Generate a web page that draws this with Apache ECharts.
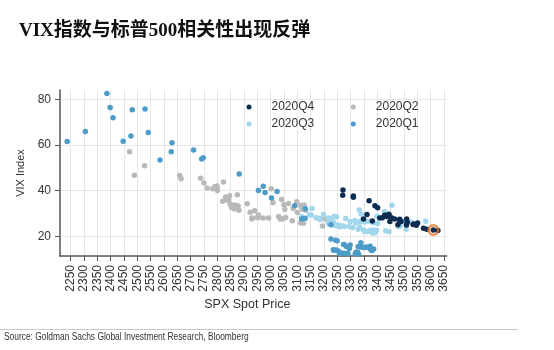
<!DOCTYPE html>
<html>
<head>
<meta charset="utf-8">
<script src="https://cdn.jsdelivr.net/npm/echarts@6/dist/echarts.min.js"></script>
<style>
  html, body { margin: 0; padding: 0; background: #fff; }
  #chart-container { width: 554px; height: 350px; }
</style>
</head>
<body>
<div id="chart-container"></div>
<script>
// tick labels
const spxTicks = [2250, 2300, 2350, 2400, 2450, 2500, 2550, 2600, 2650, 2700, 2750, 2800, 2850, 2900, 2950,
  3000, 3050, 3100, 3150, 3200, 3250, 3300, 3350, 3400, 3450, 3500, 3550, 3600, 3650];
const vixTicks = [20, 40, 60, 80];

// 2020Q1 (spx, vix)
const q1Spx = [3258, 3235, 3246, 3237, 3253, 3275, 3265, 3288, 3283, 3289, 3317, 3330, 3321, 3322, 3326, 3295, 3244, 3276, 3273, 3284, 3226,
  3249, 3298, 3335, 3346, 3328, 3352, 3358, 3379, 3374, 3380, 3370, 3386, 3373, 3338, 3226, 3128, 3116, 2979, 2954,
  3090, 3003, 3130, 3024, 2972, 2747, 2882, 2741, 2481, 2711, 2386, 2529, 2398, 2409, 2305, 2237, 2447, 2476, 2630, 2541, 2627, 2585];
const q1Vix = [12.5, 14.0, 13.9, 13.8, 13.5, 12.5, 12.6, 12.3, 12.4, 12.4, 12.3, 12.1, 12.9, 12.9, 13.0, 14.6, 18.2, 16.3, 16.4, 15.5, 18.8,
  18.0, 16.1, 15.2, 15.0, 15.5, 15.0, 15.2, 13.7, 14.2, 13.7, 14.8, 14.4, 15.6, 17.1, 25.0, 27.9, 27.6, 39.2, 40.1,
  33.4, 36.8, 32.0, 39.6, 41.9, 54.5, 47.3, 53.9, 75.5, 57.8, 82.7, 75.9, 76.5, 72.0, 66.0, 61.6, 61.7, 64.0, 61.0, 65.5, 57.1, 53.5];

// 2020Q2
const q2Spx = [2471, 2527, 2489, 2664, 2659, 2750, 2790, 2762, 2846, 2783, 2800, 2875, 2823, 2737, 2799, 2798, 2837, 2878, 2863, 2940, 2912,
  2831, 2843, 2868, 2848, 2881, 2930, 2930, 2870, 2820, 2853, 2864, 2954, 2923, 2972, 2949, 2955, 2992, 3036, 3030, 3044,
  3056, 3081, 3123, 3112, 3194, 3232, 3207, 3190, 3002, 3041, 3067, 3125, 3113, 3115, 3098, 3118, 3131, 3050, 3084, 3009, 3053, 3100];
const q2Vix = [57.1, 50.9, 46.8, 45.2, 46.7, 43.4, 41.7, 41.2, 37.8, 40.8, 40.1, 38.2, 43.8, 45.4, 42.0, 41.4, 35.9, 33.3, 33.6, 31.2, 34.2,
  37.2, 36.0, 33.6, 34.1, 31.4, 28.0, 27.6, 33.0, 35.3, 32.6, 31.9, 29.3, 30.5, 28.0, 28.2, 28.2, 28.0, 27.6, 28.6, 27.5,
  28.2, 26.8, 25.7, 25.8, 24.5, 25.8, 27.6, 27.6, 40.8, 36.1, 34.4, 33.7, 33.5, 32.9, 35.1, 31.8, 31.4, 33.8, 32.2, 34.7, 31.8, 30.4];

// 2020Q3
const q3Spx = [3116, 3130, 3180, 3145, 3170, 3152, 3185, 3155, 3198, 3227, 3216, 3225, 3252, 3257, 3276, 3236, 3216, 3239, 3218, 3258, 3246, 3271,
  3295, 3307, 3328, 3349, 3351, 3360, 3334, 3380, 3373, 3373, 3382, 3390, 3375, 3386, 3397, 3431, 3444, 3479, 3485, 3508, 3500,
  3527, 3581, 3455, 3427, 3332, 3399, 3339, 3341, 3384, 3401, 3385, 3357, 3319, 3281, 3316, 3237, 3247, 3298, 3352, 3335, 3363];
const q3Vix = [28.6, 27.7, 27.9, 29.4, 28.1, 29.3, 27.3, 32.2, 29.5, 27.8, 28.0, 25.7, 24.5, 24.8, 24.3, 26.1, 25.8, 24.7, 25.4, 24.1, 24.8, 24.5,
  24.3, 23.8, 23.0, 22.7, 22.2, 22.1, 24.0, 22.3, 22.6, 22.1, 21.4, 21.5, 22.5, 22.7, 22.5, 22.4, 22.0, 24.1, 24.5, 23.0, 26.4,
  26.1, 26.6, 33.6, 30.8, 31.5, 28.8, 29.7, 26.9, 25.9, 25.6, 26.0, 26.5, 25.8, 27.8, 26.9, 28.6, 28.5, 26.4, 26.2, 26.3, 26.4];

// 2020Q4
const q4Spx = [3381, 3348, 3409, 3361, 3419, 3447, 3477, 3534, 3512, 3489, 3483, 3484, 3427, 3443, 3436, 3453, 3465, 3401, 3391, 3271, 3310, 3270,
  3310, 3369, 3443, 3510, 3509, 3551, 3546, 3573, 3537, 3585, 3627, 3610];
const q4Vix = [26.7, 27.6, 28.0, 29.5, 28.1, 26.4, 25.0, 25.1, 26.1, 26.4, 27.0, 27.4, 29.2, 29.4, 28.7, 28.1, 27.6, 32.5, 33.4, 40.3, 37.6, 38.0,
  37.1, 35.6, 29.6, 27.6, 24.9, 25.8, 24.8, 23.5, 25.4, 23.1, 22.5, 22.7];

// latest point (circled)
const latestSpx = [3610];
const latestVix = [22.7];

const zip = (xs, ys) => xs.map((x, i) => [x, ys[i]]);

const chart = echarts.init(document.getElementById("chart-container"));

const dot = (name, xs, ys, color, z) => ({
  name: name,
  type: "scatter",
  data: zip(xs, ys),
  symbol: "circle",
  symbolSize: 5.5,
  itemStyle: { color: color, opacity: 1 },
  z: z,
});

const legendBase = {
  orient: "vertical",
  top: 101,
  padding: 0,
  itemWidth: 35,
  itemHeight: 5,
  itemGap: 5,
  icon: "circle",
  selectedMode: false,
  textStyle: { fontSize: 12, color: "#333", fontFamily: "Liberation Sans, Arial, sans-serif" },
};

const option = {
  animation: false,
  backgroundColor: "#fff",
  title: {
    text: "VIX指数与标普500相关性出现反弹",
    left: 19,
    top: 21,
    padding: 0,
    textStyle: {
      fontSize: 19,
      lineHeight: 20,
      fontWeight: "bold",
      color: "#111",
      fontFamily: "'Liberation Serif', 'Noto Sans CJK SC', serif",
    },
  },
  legend: [
    Object.assign({}, legendBase, { left: 246.5, data: ["2020Q4", "2020Q3"] }),
    Object.assign({}, legendBase, { left: 350.8, data: ["2020Q2", "2020Q1"] }),
  ],
  grid: { left: 60, right: 107.3, top: 90, bottom: 94, containLabel: false },
  xAxis: {
    type: "value",
    min: 2210,
    max: 3660,
    minInterval: 50,
    maxInterval: 50,
    name: "SPX Spot Price",
    nameLocation: "middle",
    nameGap: 42,
    nameTextStyle: { fontSize: 12.5, color: "#333", fontFamily: "Liberation Sans, Arial, sans-serif", padding: [0, 12, 0, 0] },
    axisLine: { show: true, lineStyle: { color: "#555", width: 1.5 } },
    axisTick: { show: true, length: 5, lineStyle: { color: "#555" }, customValues: spxTicks },
    axisLabel: {
      rotate: 90,
      margin: 9,
      fontSize: 12,
      color: "#333",
      fontFamily: "Liberation Sans, Arial, sans-serif",
      customValues: spxTicks,
      formatter: (v) => String(v),
    },
    splitLine: { show: true, lineStyle: { color: "#e6e6e6", width: 1 } },
  },
  yAxis: {
    type: "value",
    min: 11.3,
    max: 84.2,
    minInterval: 20,
    maxInterval: 20,
    name: "VIX Index",
    nameLocation: "middle",
    nameGap: 30,
    nameTextStyle: { fontSize: 11, color: "#333", fontFamily: "Liberation Sans, Arial, sans-serif" },
    axisLine: { show: true, lineStyle: { color: "#555", width: 1.5 } },
    axisTick: { show: true, length: 5, lineStyle: { color: "#555" }, customValues: vixTicks },
    axisLabel: {
      margin: 9,
      fontSize: 12,
      color: "#333",
      fontFamily: "Liberation Sans, Arial, sans-serif",
      customValues: vixTicks,
      formatter: (v) => String(v),
    },
    splitLine: { show: true, lineStyle: { color: "#e6e6e6", width: 1 } },
  },
  series: [
    dot("2020Q2", q2Spx, q2Vix, "#b9b9b9", 2),
    dot("2020Q3", q3Spx, q3Vix, "#a2d6ec", 3),
    dot("2020Q1", q1Spx, q1Vix, "#4f9bc8", 4),
    dot("2020Q4", q4Spx, q4Vix, "#0c2c52", 5),
    {
      name: "latest",
      type: "scatter",
      data: zip(latestSpx, latestVix),
      symbol: "circle",
      symbolSize: 9.5,
      itemStyle: { color: "rgba(0,0,0,0)", borderColor: "#e8772e", borderWidth: 2.5 },
      z: 6,
    },
  ],
  graphic: [
    {
      type: "line",
      shape: { x1: 0, y1: 329.5, x2: 518, y2: 329.5 },
      style: { stroke: "#c9c9c9", lineWidth: 1 },
    },
    {
      type: "text",
      x: 4,
      y: 332,
      scaleX: 0.8,
      style: {
        text: "Source: Goldman Sachs Global Investment Research, Bloomberg",
        fontSize: 10.5,
        fontFamily: "'Liberation Sans', sans-serif",
        fill: "#333",
      },
    },
  ],
};

chart.setOption(option);

window.addEventListener("resize", () => chart.resize());
</script>
</body>
</html>
